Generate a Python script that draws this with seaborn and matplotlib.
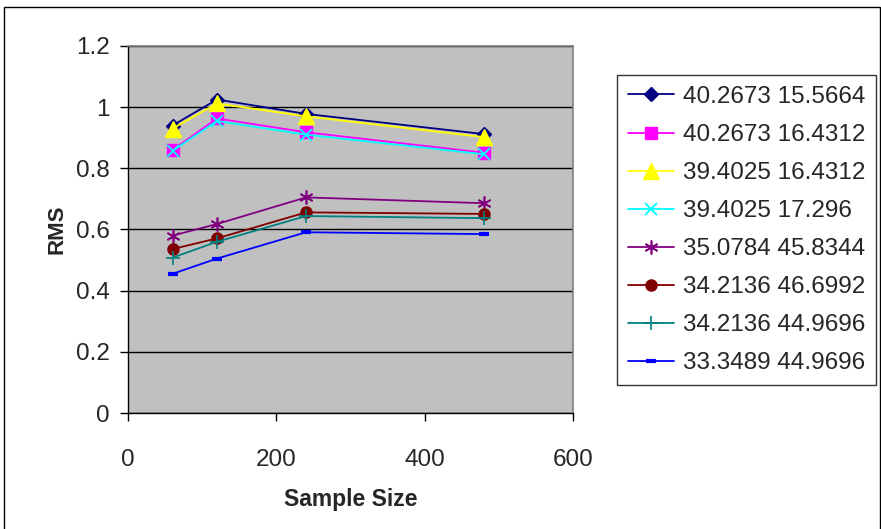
import matplotlib
matplotlib.use("Agg")
import matplotlib.pyplot as plt
import seaborn as sns
import pandas as pd
from matplotlib.patches import Rectangle

sample_sizes = [60, 120, 240, 480]
labels = ["40.2673 15.5664", "40.2673 16.4312", "39.4025 16.4312", "39.4025 17.296",
          "35.0784 45.8344", "34.2136 46.6992", "34.2136 44.9696", "33.3489 44.9696"]
s1 = [0.94, 1.025, 0.978, 0.912]
s2 = [0.86, 0.963, 0.918, 0.851]
s3 = [0.93, 1.012, 0.970, 0.902]
s4 = [0.857, 0.955, 0.910, 0.846]
s5 = [0.580, 0.618, 0.705, 0.686]
s6 = [0.536, 0.571, 0.656, 0.651]
s7 = [0.508, 0.560, 0.644, 0.637]
s8 = [0.455, 0.505, 0.591, 0.585]
series = [s1, s2, s3, s4, s5, s6, s7, s8]

colors = ["#000080", "#FF00FF", "#FFFF00", "#00FFFF", "#800080", "#800000", "#008080", "#0000FF"]
markers = ["D", "s", "^", "x", (6, 2, 0), "o", "+", "_"]
msizes = [7, 8, 11, 8, 10, 8, 10, 7]
mews = [1, 1, 1, 1.3, 1.2, 1, 1.2, 3]

sns.set_style("white")
plt.rcParams["font.family"] = ["Liberation Sans", "DejaVu Sans"]

fig = plt.figure(figsize=(8.81, 5.29), dpi=100)
ax = fig.add_axes([128/881, 1-413/529, (573-128)/881, (413-46)/529])
ax.set_facecolor("#C0C0C0")

for lab, vals, c, m, ms, mw in zip(labels, series, colors, markers, msizes, mews):
    df = pd.DataFrame({"Sample Size": sample_sizes, "RMS": vals})
    sns.lineplot(data=df, x="Sample Size", y="RMS", ax=ax, color=c, marker=m,
                 markersize=ms, markeredgecolor=c, markerfacecolor=c,
                 markeredgewidth=mw, linewidth=1.3, label=lab)

ax.set_xlim(0, 600)
ax.set_ylim(0, 1.2)
ax.set_xticks([0, 200, 400, 600])
ax.set_yticks([0, 0.2, 0.4, 0.6, 0.8, 1.0, 1.2])
ax.set_yticklabels(["0", "0.2", "0.4", "0.6", "0.8", "1", "1.2"])
ax.yaxis.grid(True, color="black", linewidth=1)
ax.set_axisbelow(True)
ax.tick_params(axis="both", direction="out", length=6, width=1, color="black",
               labelsize=17.5, left=True, bottom=True)
ax.tick_params(axis="x", pad=20)
ax.tick_params(axis="y", pad=7)
for side in ["left", "bottom"]:
    ax.spines[side].set_color("black")
    ax.spines[side].set_linewidth(1)
for side in ["top", "right"]:
    ax.spines[side].set_color("#808080")
    ax.spines[side].set_linewidth(1.2)

ax.set_xlabel("Sample Size", fontsize=16.5, fontweight="bold", labelpad=12)
ax.set_ylabel("RMS", fontsize=16, fontweight="bold", labelpad=6)

leg = ax.legend(loc="upper left", bbox_to_anchor=(617/881, 1-75/529),
                bbox_transform=fig.transFigure, frameon=True, fancybox=False,
                edgecolor="black", fontsize=17.5, borderaxespad=0,
                handlelength=1.9, handletextpad=0.35, labelspacing=0.66,
                borderpad=0.45)
leg.get_frame().set_linewidth(1)

fig.patches.append(Rectangle((4/881, -0.05), 876/881, 1-7/529+0.05,
                             transform=fig.transFigure, fill=False,
                             edgecolor="black", linewidth=1))

fig.savefig("out.png", dpi=100)
